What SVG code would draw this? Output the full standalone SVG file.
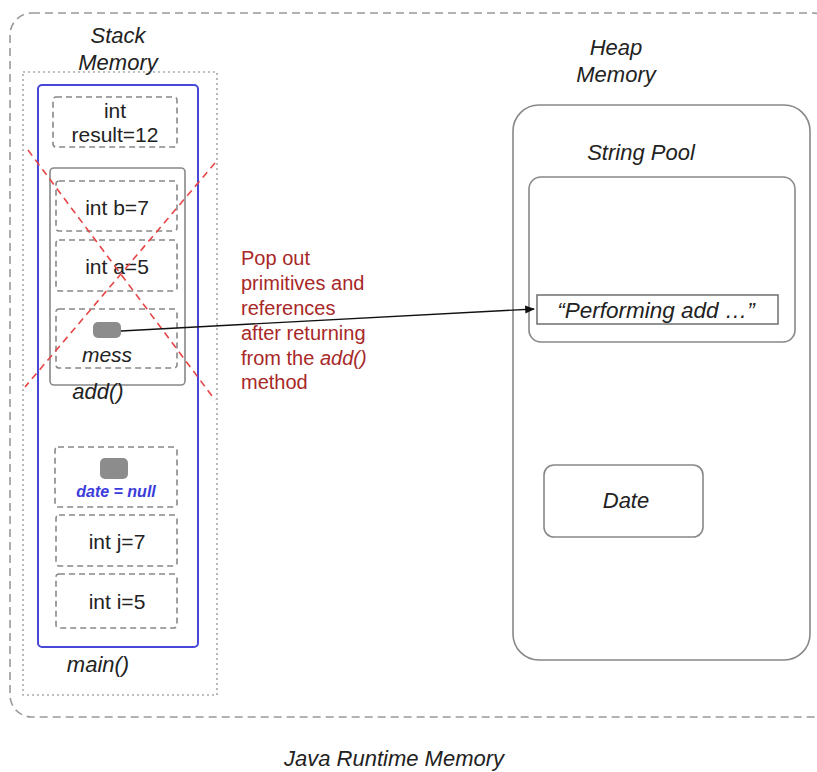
<svg xmlns="http://www.w3.org/2000/svg" width="817" height="772" viewBox="0 0 817 772">
<defs>
<style>
text{font-family:"Liberation Sans",Arial,sans-serif;fill:#222}
.it{font-style:italic}
.lbl{font-size:22px}
.var{font-size:21px}
.dash{fill:none;stroke:#888;stroke-width:1.6;stroke-dasharray:6,4}
.blob{fill:#8c8c8c}
.gray{fill:none;stroke:#888;stroke-width:1.6}
.red{font-size:20px;fill:#a82828}
.x{stroke:#e64545;stroke-width:1.6;stroke-dasharray:7,5}
</style>
<marker id="ah" viewBox="0 0 10 10" refX="9" refY="5" markerWidth="7" markerHeight="7" orient="auto">
<path d="M0,1 L10,5 L0,9 z" fill="#111"/>
</marker>
</defs>
<rect width="817" height="772" fill="#fff"/>

<g id="runtime">
<rect x="10" y="13" width="825" height="704" rx="22" fill="none" stroke="#999" stroke-width="1.6" stroke-dasharray="8,5"/>
<text class="it lbl" x="394" y="766" text-anchor="middle">Java Runtime Memory</text>
</g>

<g id="stack">
<rect x="23" y="72" width="194" height="623" fill="none" stroke="#aaa" stroke-width="1.6" stroke-dasharray="2,3"/>
<text class="it lbl" x="118" y="43" text-anchor="middle">Stack</text>
<text class="it lbl" x="118" y="70" text-anchor="middle">Memory</text>
</g>

<g id="main-frame">
<rect x="38" y="85" width="160" height="562" rx="4" fill="none" stroke="#4848d8" stroke-width="2"/>
<text class="it lbl" x="98" y="672" text-anchor="middle">main()</text>
</g>

<g id="result">
<rect class="dash" x="53" y="97" width="124" height="50" rx="3"/>
<text class="var" x="115" y="118" text-anchor="middle" font-size="19">int</text>
<text class="var" x="115" y="142" text-anchor="middle" font-size="20">result=12</text>
</g>

<g id="add-frame">
<rect class="gray" x="50" y="168" width="135" height="217" rx="4"/>
<text class="it lbl" x="98" y="399" text-anchor="middle">add()</text>
</g>

<g id="b">
<rect class="dash" x="56" y="181" width="121" height="50" rx="3"/>
<text class="var" x="117" y="215" text-anchor="middle">int b=7</text>
</g>

<g id="a">
<rect class="dash" x="56" y="240" width="121" height="51" rx="3"/>
<text class="var" x="117" y="274" text-anchor="middle">int a=5</text>
</g>

<g id="mess">
<rect class="dash" x="56" y="309" width="121" height="59" rx="3"/>
<rect class="blob" x="93" y="322" width="28" height="16" rx="5"/>
<text class="it var" x="107" y="362" text-anchor="middle">mess</text>
</g>

<g id="date-ref">
<rect class="dash" x="55" y="447" width="122" height="60" rx="3"/>
<rect class="blob" x="100" y="458" width="28" height="21" rx="5"/>
<text class="it" x="116" y="497" text-anchor="middle" font-size="16" style="fill:#3c3cdc;font-weight:bold">date = null</text>
</g>

<g id="j">
<rect class="dash" x="56" y="515" width="121" height="51" rx="3"/>
<text class="var" x="117" y="549" text-anchor="middle">int j=7</text>
</g>

<g id="i">
<rect class="dash" x="56" y="574" width="121" height="54" rx="3"/>
<text class="var" x="117" y="609" text-anchor="middle">int i=5</text>
</g>

<g id="cross">
<line class="x" x1="28" y1="150" x2="215" y2="400"/>
<line class="x" x1="215" y1="163" x2="25" y2="387"/>
</g>

<g id="note">
<text class="red" x="241" y="265">Pop out</text>
<text class="red" x="241" y="290">primitives and</text>
<text class="red" x="241" y="315">references</text>
<text class="red" x="241" y="340">after returning</text>
<text class="red" x="241" y="365">from the <tspan class="it" style="fill:#a82828">add()</tspan></text>
<text class="red" x="241" y="389">method</text>
</g>

<g id="heap">
<rect class="gray" x="513" y="105" width="297" height="555" rx="26"/>
<text class="it lbl" x="616" y="55" text-anchor="middle">Heap</text>
<text class="it lbl" x="616" y="82" text-anchor="middle">Memory</text>
</g>

<g id="string-pool">
<rect class="gray" x="529" y="177" width="266" height="165" rx="12"/>
<text class="it lbl" x="641" y="160" text-anchor="middle">String Pool</text>
</g>

<g id="performing">
<rect x="537" y="295" width="241" height="29" fill="#fff" stroke="#777" stroke-width="1.6"/>
<text class="it" x="656" y="318" text-anchor="middle" font-size="22.5">“Performing add …”</text>
</g>

<g id="date">
<rect class="gray" x="544" y="465" width="159" height="72" rx="10"/>
<text class="it lbl" x="626" y="508" text-anchor="middle">Date</text>
</g>

<g id="connectors">
<line x1="121" y1="331" x2="534" y2="309" stroke="#111" stroke-width="1.4" marker-end="url(#ah)"/>
</g>
</svg>
